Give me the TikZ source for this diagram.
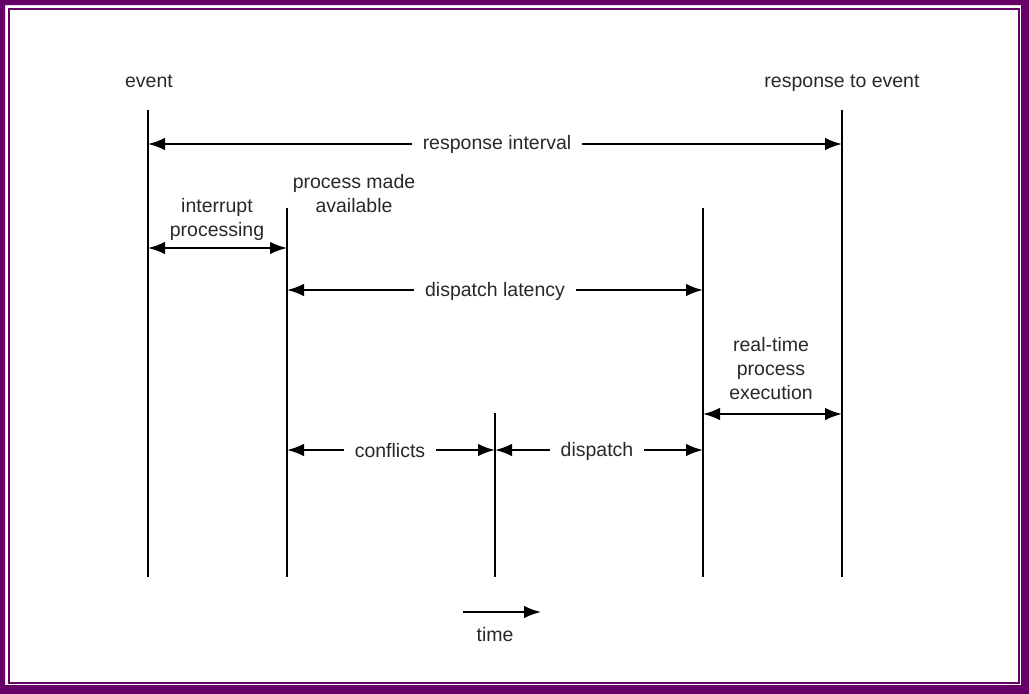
\documentclass[tikz,border=0pt]{standalone}
\usepackage{fontspec}
\setmainfont{Liberation Sans}
\usetikzlibrary{arrows.meta}
\definecolor{framepurple}{RGB}{102,0,102}
\definecolor{txtgray}{RGB}{40,40,40}
\tikzset{
  tl/.style={draw=black, line width=2pt},
  both/.style={tl, {Latex[length=17pt,width=12.5pt]}-{Latex[length=17pt,width=12.5pt]}},
  fwd/.style={tl, -{Latex[length=17pt,width=12.5pt]}},
  lbl/.style={text=txtgray, font=\fontsize{19.5}{25}\selectfont, align=center, inner sep=0pt},
  gaplbl/.style={lbl, fill=white, inner xsep=11pt, inner ysep=3pt}
}
\begin{document}
\begin{tikzpicture}[x=1pt,y=-1pt]
\useasboundingbox (0,0) rectangle (1029,694);
% frame
\fill[framepurple, even odd rule] (0,0) rectangle (1029,694) (5,5) rectangle (1021,685);
\draw[framepurple, line width=2.2pt] (9,9) rectangle (1019,683);
% vertical lines
\coordinate (a1) at (148,110); \coordinate (a2) at (148,577);
\coordinate (b1) at (287,208); \coordinate (b2) at (287,577);
\coordinate (c1) at (495,413); \coordinate (c2) at (495,577);
\coordinate (d1) at (703,208); \coordinate (d2) at (703,577);
\coordinate (e1) at (842,110); \coordinate (e2) at (842,577);
\draw[tl] (a1) -- (a2);
\draw[tl] (b1) -- (b2);
\draw[tl] (c1) -- (c2);
\draw[tl] (d1) -- (d2);
\draw[tl] (e1) -- (e2);
% top labels
\node[lbl] (ev) at (149,81) {event};
\node[lbl] (rev) at (842,83) {response to event};
% response interval
\coordinate (ri1) at (148,144); \coordinate (ri2) at (842,144);
\draw[both] (ri1) -- (ri2);
\node[gaplbl] (ri) at (497,144.5) {response interval};
% interrupt processing
\coordinate (ip1) at (148,248); \coordinate (ip2) at (287,248);
\draw[both] (ip1) -- (ip2);
\node[lbl] (ipl) at (217,219) {interrupt\\[-1pt]processing};
\node[lbl] (pma) at (354,194) {process made\\[-1pt]available};
% dispatch latency
\coordinate (dl1) at (287,290); \coordinate (dl2) at (703,290);
\draw[both] (dl1) -- (dl2);
\node[gaplbl] (dl) at (495,291) {dispatch latency};
% real-time process execution
\coordinate (rt1) at (703,414); \coordinate (rt2) at (842,414);
\draw[both] (rt1) -- (rt2);
\node[lbl] (rtl) at (771,369) {real-time\\[-1pt]process\\[-1pt]execution};
% conflicts / dispatch
\coordinate (cf1) at (287,450); \coordinate (cf2) at (495,450);
\draw[both] (cf1) -- (cf2);
\node[gaplbl] (cf) at (390,451) {conflicts};
\coordinate (dp1) at (495,450); \coordinate (dp2) at (703,450);
\draw[both] (dp1) -- (dp2);
\node[gaplbl] (dp) at (597,451) {dispatch};
% time
\coordinate (t1) at (463,612); \coordinate (t2) at (541,612);
\draw[fwd] (t1) -- (t2);
\node[lbl] (tm) at (495,635) {time};
\end{tikzpicture}
\end{document}
